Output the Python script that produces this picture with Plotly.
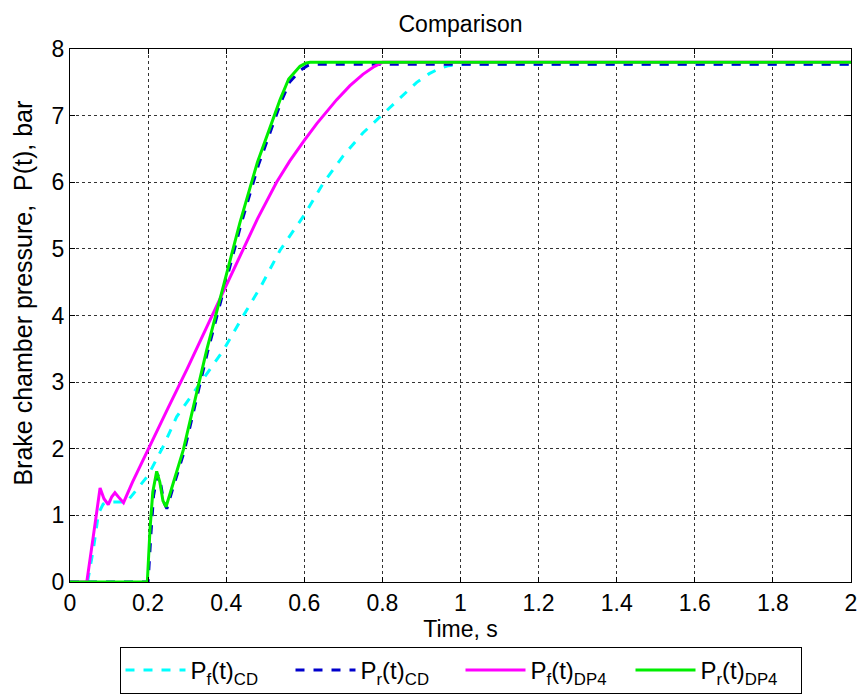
import plotly.graph_objects as go

# Pf(t)_CD  (cyan dashed)
t_pf_cd = [0, 0.045, 0.06, 0.073, 0.085, 0.1, 0.12, 0.145, 0.17, 0.2, 0.24, 0.273, 0.333, 0.393,
           0.435, 0.49, 0.538, 0.6, 0.649, 0.7, 0.75, 0.8, 0.85, 0.888, 0.92, 0.947, 0.97, 0.99, 1.0, 2.0]
p_pf_cd = [0, 0, 0.5, 1.03, 1.17, 1.2, 1.2, 1.2, 1.38, 1.6, 2.05, 2.48, 2.98, 3.48,
           3.91, 4.45, 4.98, 5.51, 5.99, 6.4, 6.74, 7.02, 7.3, 7.5, 7.63, 7.71, 7.75, 7.77, 7.77, 7.77]

# Pr(t)_CD  (blue dashed)
t_pr_cd = [0, 0.2, 0.207, 0.214, 0.224, 0.232, 0.24, 0.248, 0.262, 0.292, 0.352, 0.382, 0.437,
           0.482, 0.54, 0.562, 0.59, 0.608, 0.62, 2.0]
p_pr_cd = [0, 0, 0.7, 1.3, 1.62, 1.48, 1.2, 1.1, 1.38, 1.95, 3.45, 4.12, 5.35,
           6.25, 7.2, 7.5, 7.68, 7.75, 7.77, 7.77]

# Pf(t)_DP4 (magenta solid)
t_pf_dp4 = [0, 0.043, 0.06, 0.072, 0.077, 0.087, 0.098, 0.107, 0.115, 0.125, 0.137, 0.16, 0.2,
            0.25, 0.3, 0.38, 0.435, 0.48, 0.529, 0.563, 0.6, 0.632, 0.683, 0.717, 0.75, 0.78, 0.8, 2.0]
p_pf_dp4 = [0, 0, 0.7, 1.2, 1.41, 1.25, 1.16, 1.28, 1.34, 1.27, 1.19, 1.5, 2.0,
            2.6, 3.2, 4.2, 4.88, 5.45, 6.0, 6.32, 6.63, 6.88, 7.24, 7.45, 7.62, 7.74, 7.8, 7.8]

# Pr(t)_DP4 (green solid)
t_pr_dp4 = [0, 0.198, 0.205, 0.212, 0.222, 0.23, 0.238, 0.246, 0.26, 0.29, 0.35, 0.38, 0.435,
            0.48, 0.538, 0.56, 0.589, 0.605, 0.615, 2.0]
p_pr_dp4 = [0, 0, 0.8, 1.35, 1.66, 1.5, 1.22, 1.13, 1.4, 1.98, 3.48, 4.15, 5.39,
            6.3, 7.24, 7.55, 7.74, 7.79, 7.8, 7.8]

x_ticks = [0, 0.2, 0.4, 0.6, 0.8, 1, 1.2, 1.4, 1.6, 1.8, 2]
y_ticks = [0, 1, 2, 3, 4, 5, 6, 7, 8]

FONT = "Liberation Sans, Arial, sans-serif"

fig = go.Figure()
fig.add_trace(go.Scatter(x=t_pf_cd, y=p_pf_cd, mode="lines", name="P<sub>f</sub>(t)<sub>CD</sub>",
                         line=dict(color="#00FFFF", width=3, dash="dash")))
fig.add_trace(go.Scatter(x=t_pr_cd, y=p_pr_cd, mode="lines", name="P<sub>r</sub>(t)<sub>CD</sub>",
                         line=dict(color="#0000CC", width=3, dash="dash")))
fig.add_trace(go.Scatter(x=t_pf_dp4, y=p_pf_dp4, mode="lines", name="P<sub>f</sub>(t)<sub>DP4</sub>",
                         line=dict(color="#FF00FF", width=3)))
fig.add_trace(go.Scatter(x=t_pr_dp4, y=p_pr_dp4, mode="lines", name="P<sub>r</sub>(t)<sub>DP4</sub>",
                         line=dict(color="#00EE00", width=3)))

axis_common = dict(showline=True, linecolor="black", linewidth=1, mirror="ticks",
                   ticks="inside", ticklen=5, tickcolor="black",
                   showgrid=True, gridcolor="#333333", gridwidth=1, griddash="dot",
                   zeroline=False, automargin=False,
                   tickfont=dict(family=FONT, size=23, color="black"))

fig.update_xaxes(range=[0, 2], tickvals=x_ticks,
                 title=dict(text="Time, s", font=dict(family=FONT, size=23, color="black"), standoff=6),
                 **axis_common)
fig.update_yaxes(range=[0, 8], tickvals=y_ticks, **axis_common)

fig.update_layout(
    width=862, height=700,
    margin=dict(l=70, r=11, t=49, b=118),
    paper_bgcolor="white", plot_bgcolor="white",
    title=dict(text="Comparison", x=0.5, xref="paper", xanchor="center",
               yref="container", y=0.966, yanchor="middle",
               font=dict(family=FONT, size=23, color="black")),
    showlegend=True,
    legend=dict(orientation="h", x=0.5, xanchor="center",
                yref="container", y=0.0757, yanchor="top",
                bordercolor="black", borderwidth=1, bgcolor="white",
                font=dict(family=FONT, size=24, color="black"),
                entrywidth=95, itemwidth=60, tracegroupgap=0),
    annotations=[dict(text="Brake chamber pressure,  P(t), bar", textangle=-90,
                      xref="paper", yref="paper", x=-0.0602, y=0.543,
                      xanchor="center", yanchor="middle", showarrow=False,
                      font=dict(family=FONT, size=25, color="black"))],
)

fig.write_html("out.html", config={"displayModeBar": False},
               post_script="document.body.style.margin='0';document.body.style.overflow='hidden';")
